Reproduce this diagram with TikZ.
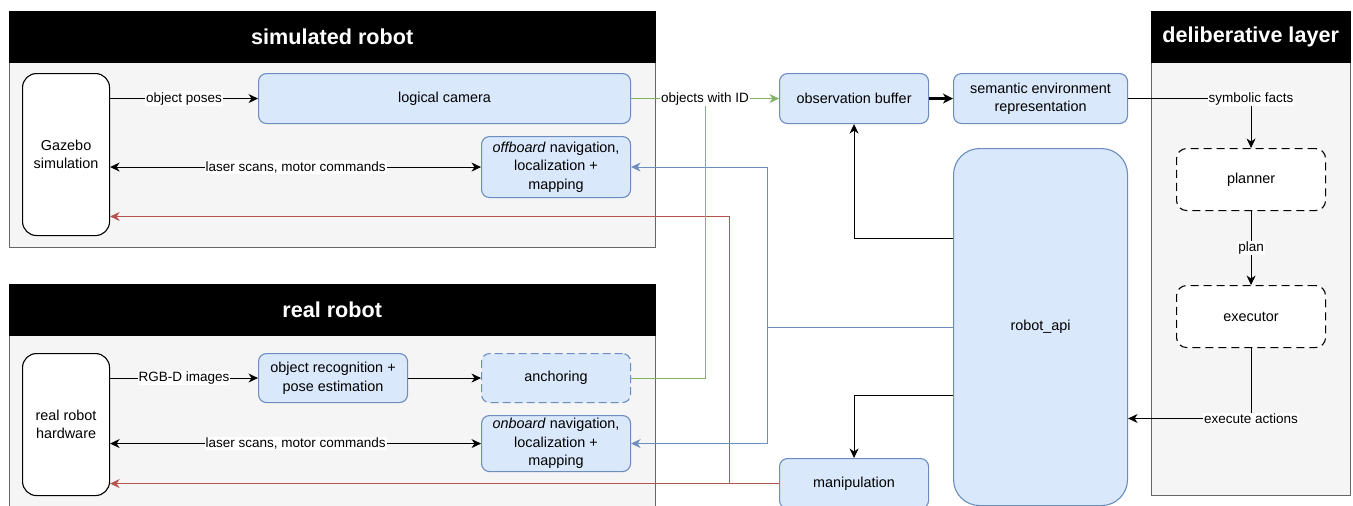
\documentclass[tikz,border=0pt]{standalone}
\usepackage{fontspec}
\setmainfont{Liberation Sans}
\usetikzlibrary{arrows.meta,calc}
\definecolor{bluefill}{HTML}{DAE8FC}
\definecolor{bluedraw}{HTML}{6C8EBF}
\definecolor{grayfill}{HTML}{F5F5F5}
\definecolor{graydraw}{HTML}{666666}
\definecolor{greenline}{HTML}{82B366}
\definecolor{redline}{HTML}{B85450}
\tikzset{
  tip/.tip={Stealth[length=9.5pt,width=9pt,inset=3pt]},
  container/.style={fill=grayfill, draw=graydraw, line width=1.1pt, inner sep=0pt, anchor=north west},
  header/.style={fill=black, draw=black, text=white, font=\fontsize{21.6}{26}\selectfont\bfseries, inner sep=0pt, anchor=north west},
  bluebox/.style={fill=bluefill, draw=bluedraw, line width=1.1pt, rounded corners=8pt, inner sep=0pt, anchor=north west, align=center, font=\fontsize{14.4}{18.5}\selectfont},
  whitebox/.style={fill=white, draw=black, line width=1.1pt, rounded corners=14pt, inner sep=0pt, anchor=north west, align=center, font=\fontsize{14.4}{18.5}\selectfont},
  dashbox/.style={fill=white, draw=black, line width=1.1pt, rounded corners=10pt, dash pattern=on 8pt off 5pt, inner sep=0pt, anchor=north west, align=center, font=\fontsize{14.4}{18.5}\selectfont},
  lbl/.style={fill=white, inner sep=1pt, font=\fontsize{13.5}{16}\selectfont},
  arr/.style={draw=black, line width=1pt, -tip},
  biarr/.style={draw=black, line width=1pt, tip-tip},
  thickarr/.style={draw=black, line width=2.2pt, -{Stealth[length=10pt,width=10pt,inset=3pt]}},
  greenl/.style={draw=greenline, line width=1pt},
  greenarr/.style={draw=greenline, line width=1pt, -tip},
  bluel/.style={draw=bluedraw, line width=1pt},
  bluearr/.style={draw=bluedraw, line width=1pt, -tip},
  redl/.style={draw=redline, line width=1pt},
  redarr/.style={draw=redline, line width=1pt, -tip},
}
\begin{document}
\begin{tikzpicture}[x=1pt,y=-1pt]
\clip (0,0) rectangle (1353,506);
\fill[white] (0,0) rectangle (1353,506);

% containers
\node[container, minimum width=646pt, minimum height=185pt] (simbody) at (9,62) {};
\node[header, minimum width=646pt, minimum height=51pt] (simhead) at (9,11) {simulated robot};
\node[container, minimum width=646pt, minimum height=185pt] (realbody) at (9,335) {};
\node[header, minimum width=646pt, minimum height=51pt] (realhead) at (9,284) {real robot};
\node[container, minimum width=199pt, minimum height=433pt] (delbody) at (1151,62) {};
\node[header, minimum width=199pt, minimum height=51pt] (delhead) at (1151,11) {deliberative layer};

% simulated robot
\node[whitebox, minimum width=87pt, minimum height=162pt] (gazebo) at (22,73) {Gazebo\\simulation};
\node[bluebox, minimum width=372pt, minimum height=50pt] (logcam) at (258,73) {logical camera};
\node[bluebox, minimum width=149pt, minimum height=61pt] (offnav) at (481,136) {\textit{offboard} navigation,\\localization +\\mapping};

% real robot
\node[whitebox, minimum width=87pt, minimum height=142pt] (hardware) at (22,353) {real robot\\hardware};
\node[bluebox, minimum width=149pt, minimum height=49pt] (objrec) at (258,353) {object recognition +\\pose estimation};
\node[bluebox, minimum width=149pt, minimum height=49pt, dash pattern=on 8pt off 4pt] (anchor) at (481,353) {anchoring};
\node[bluebox, minimum width=149pt, minimum height=56pt] (onnav) at (481,415) {\textit{onboard} navigation,\\localization +\\mapping};

% middle
\node[bluebox, minimum width=149pt, minimum height=50pt] (obsbuf) at (779,73) {observation buffer};
\node[bluebox, minimum width=174pt, minimum height=50pt] (semantic) at (953,73) {semantic environment\\representation};
\node[bluebox, minimum width=174pt, minimum height=357pt, rounded corners=26pt] (robotapi) at (953,148) {robot\_api};
\node[bluebox, minimum width=149pt, minimum height=50pt] (manip) at (779,458) {manipulation};

% deliberative
\node[dashbox, minimum width=149pt, minimum height=62pt] (planner) at (1176,148) {planner};
\node[dashbox, minimum width=149pt, minimum height=62pt] (executor) at (1176,285) {executor};

% helper coordinates
\coordinate (gx) at (705.5,0);
\coordinate (bx) at (767.5,0);
\coordinate (rx) at (729.5,0);
\coordinate (y216) at (0,216.5);
\coordinate (y238) at (0,238.5);
\coordinate (y395) at (0,395.5);
\coordinate (y418) at (0,418.5);

% red connectors
\draw[redl] (manip.west) -- (rx |- manip.west);
\draw[redarr] (rx |- manip.west) |- (gazebo.east |- y216);
\draw[redarr] (rx |- manip.west) -- (hardware.east |- manip.west);

% blue connectors
\draw[bluel] (robotapi.west) -- (bx |- robotapi.west);
\draw[bluearr] (bx |- robotapi.west) |- (offnav.east);
\draw[bluearr] (bx |- robotapi.west) |- (onnav.east);

% green connectors
\draw[greenl] (anchor.east) -| (gx |- logcam.east);
\draw[greenarr] (logcam.east) -- node[lbl] {objects with ID} (obsbuf.west);

% black connectors
\draw[arr] (gazebo.east |- logcam.west) -- node[lbl] {object poses} (logcam.west);
\draw[biarr] (gazebo.east |- offnav.west) -- node[lbl] {laser scans, motor commands} (offnav.west);
\draw[arr] (hardware.east |- objrec.west) -- node[lbl] {RGB-D images} (objrec.west);
\draw[arr] (objrec.east) -- (anchor.west);
\draw[biarr] (hardware.east |- onnav.west) -- node[lbl] {laser scans, motor commands} (onnav.west);
\draw[thickarr] (obsbuf.east) -- (semantic.west);
\draw[arr] (robotapi.west |- y238) -| (obsbuf.south);
\draw[arr] (robotapi.west |- y395) -| (manip.north);
\draw[arr] (semantic.east) -| node[lbl, pos=0.5] {symbolic facts} (planner.north);
\draw[arr] (planner.south) -- node[lbl] {plan} (executor.north);
\draw[arr] (executor.south) |- node[lbl, pos=0.5] {execute actions} (robotapi.east |- y418);
\end{tikzpicture}
\end{document}
